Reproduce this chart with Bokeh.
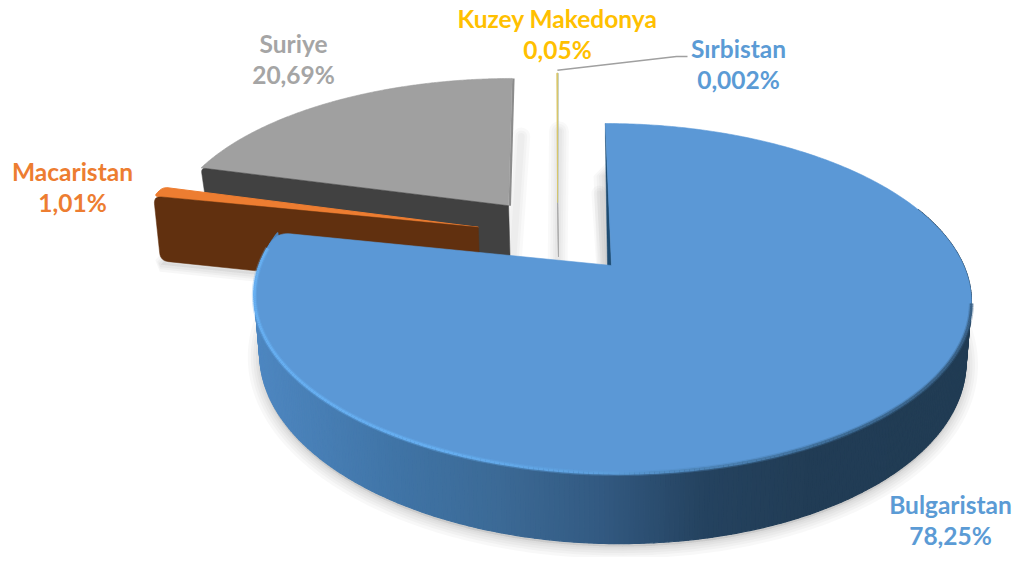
import numpy as np
from bokeh.plotting import figure
from bokeh.models import Range1d
from bokeh.core.properties import value
from bokeh.embed import file_html
from bokeh.resources import INLINE

# ---- data ----
categories = ["Bulgaristan", "Macaristan", "Suriye", "Kuzey Makedonya", "Sırbistan"]
values = [78.25, 1.01, 20.69, 0.05, 0.002]
value_labels = ["78,25%", "1,01%", "20,69%", "0,05%", "0,002%"]
top_colors = ["#5B98D6", "#ED7D31", "#A0A0A0", "#D9C66A", "#5B9BD5"]
text_colors = ["#5B9BD5", "#ED7D31", "#A5A5A5", "#FFC000", "#5B9BD5"]
label_centers = [(950, 519.5), (72, 186.5), (293, 58.5), (557, 33.5), (738, 63.5)]
explode_u = [0.0, -0.39, -0.305, -0.156, -0.156]
explode_v = [0.0, 0.237, 0.38, 0.40, 0.40]
radius = [1.0, 1.03, 1.02, 1.05, 1.05]
depths = [58, 70, 58, 58, 58]
lean = [0, 0, 5, 2, 2]

# ---- projection of the pie plane to the page ----
A, B, K, Y0, XV, C, XC, SHRINK = 352.2, 168.4, 0.186, 265.0, 572.0, 39.0, 612.0, 0.985


def proj(u, v):
    u, v = np.asarray(u, float), np.asarray(v, float)
    w = 1 + K * v
    return XV + (A * u + C) / w, Y0 - B * v / w


def proj_low(u, v, d):
    x, y = proj(u, v)
    w = 1 + K * np.asarray(v, float)
    return XC + (x - XC) * SHRINK, y + d / w


fr = np.array(values) / sum(values) * 360.0
starts = np.concatenate([[0], np.cumsum(fr)[:-1]])
ends = np.cumsum(fr)


def arc_uv(i, n=240, a0=None, a1=None):
    a0 = starts[i] if a0 is None else a0
    a1 = ends[i] if a1 is None else a1
    th = np.radians(np.linspace(a0, a1, n))
    return explode_u[i] + radius[i] * np.sin(th), explode_v[i] + radius[i] * np.cos(th)


def rounded(pts, idxs, r):
    out = []
    n = len(pts)
    for j, q in enumerate(pts):
        if j not in idxs:
            out.append(q)
            continue
        q = np.array(q, float)
        p0, p2 = np.array(pts[j - 1], float), np.array(pts[(j + 1) % n], float)
        k = j - 1
        while np.hypot(*(p0 - q)) < r and k > 0:
            k -= 1
            p0 = np.array(pts[k], float)
        a = q + (p0 - q) / np.hypot(*(p0 - q)) * r
        b = q + (p2 - q) / np.hypot(*(p2 - q)) * r
        for s in np.linspace(0, 1, 9):
            out.append(tuple((1 - s) ** 2 * a + 2 * s * (1 - s) * q + s ** 2 * b))
    return out


def xy(pts):
    arr = np.array(pts, float)
    return arr[:, 0], arr[:, 1]


p = figure(width=1014, height=557, x_range=Range1d(0, 1014), y_range=Range1d(557, 0),
           output_backend="svg", toolbar_location=None, min_border=0,
           outline_line_color=None, background_fill_color="white", border_fill_color="white")
p.axis.visible = False
p.grid.visible = False


def soft(xs, ys, widths=(22, 16, 11, 6), alpha=0.028, closed=True):
    for wd in widths:
        if closed:
            p.patch(xs, ys, fill_color="#000000", fill_alpha=alpha / 2, line_color="#000000",
                    line_alpha=alpha, line_width=wd)
        else:
            p.line(xs, ys, line_color="#000000", line_alpha=alpha, line_width=wd, line_cap="round")


# ---- soft shadows ----
au, av = arc_uv(0, 360)
sx, sy = proj_low(np.r_[0, au], np.r_[0, av], depths[0])
soft(sx, sy + 3, widths=(24, 18, 13, 8, 4))

gu, gv = arc_uv(2)
gx, gy = proj(np.r_[explode_u[2], gu[-1]], np.r_[explode_v[2], gv[-1]])
soft(gx + 4, gy + 58, widths=(18, 12, 7), alpha=0.025, closed=False)

ku, kv = arc_uv(3, 2)
kx, ky = proj(np.r_[explode_u[3], ku[0]], np.r_[explode_v[3], kv[0]])
soft(kx, ky + 58, widths=(20, 15, 10, 6), alpha=0.025, closed=False)

ou, ov = arc_uv(1)
ox, oy = proj_low(np.r_[explode_u[1], ou], np.r_[explode_v[1], ov], depths[1])
soft(ox, oy + 4, widths=(14, 9, 5), alpha=0.03)

bu, bv = arc_uv(0, 2, 0, 1)
bx, by = proj(np.r_[0, bu[0]], np.r_[0, bv[0]])
soft(bx[:2] - 6, np.array([by[0] + 20, by[1] + 70]), widths=(16, 11, 6), alpha=0.025, closed=False)

# ---- Suriye ----
gex, gey = proj(explode_u[2], explode_v[2])
gax, gay = proj(gu, gv)
gax = gax - lean[2] * (gv - explode_v[2])
gbx, gby = proj_low(explode_u[2], explode_v[2], depths[2])
gcx, gcy = proj_low(gu[0], gv[0], depths[2])
p.line([gax[-1] + 1.2, float(gex) + 1.2], [gay[-1], float(gey)], line_color="#8C8C8C", line_width=2.4)
p.patch(np.r_[gex, gax], np.r_[gey, gay], fill_color=top_colors[2], line_color=top_colors[2], line_width=0.6)
face = rounded([(gax[0], gay[0]), (float(gex), float(gey)), (float(gbx), float(gby)), (float(gcx), float(gcy))], [0], 5)
fx, fy = xy(face)
p.patch(fx, fy, fill_color="#414141", line_color="#414141", line_width=0.5)

# ---- Macaristan ----
oex, oey = proj(explode_u[1], explode_v[1])
oax, oay = proj(ou, ov)
otop = [(float(oex), float(oey))] + list(zip(oax, oay))
otop = rounded(otop[:1] + [otop[1], otop[-1]], [1, 2], 5)
tx_, ty_ = xy(otop)
p.patch(tx_, ty_, fill_color=top_colors[1], line_color=top_colors[1], line_width=1)
olx, oly = proj_low(explode_u[1], explode_v[1], depths[1])
ocx, ocy = proj_low(ou[0], ov[0], depths[1])
face = rounded([(float(oex), float(oey)), (oax[0], oay[0]), (float(ocx), float(ocy)), (float(olx), float(oly))], [1, 2], 8)
fx, fy = xy(face)
p.patch(fx, fy, fill_color="#61300F", line_color="#61300F", line_width=0.5)

# ---- Kuzey Makedonya and Sirbistan: hairline slices ----
for i in (4, 3):
    uu, vv = arc_uv(i, 4)
    ex, ey = proj(explode_u[i], explode_v[i])
    ax, ay = proj(uu, vv)
    ax = ax - lean[i] * (vv - explode_v[i])
    lx, ly = proj_low(explode_u[i], explode_v[i], depths[i])
    p.line([float(ex), float(lx)], [float(ey), float(ly)], line_color="#A8A8A8", line_width=1)
    p.patch(np.r_[ex, ax], np.r_[ey, ay], fill_color=top_colors[i], line_color=top_colors[i], line_width=1.1)

# leader line
kau, kav = arc_uv(3, 2)
kax, kay = proj(kau, kav)
kax = kax - lean[3] * (kav - explode_v[3])
p.line([float(kax[0]) + 0.5, 676, 687], [float(kay[0]) - 3, 56, 56], line_color="#A0A0A0", line_width=1.5)

# ---- Bulgaristan ----
ramp_x = [254, 400, 500, 600, 700, 800, 970]
ramp_r = [0x4F, 0x40, 0x3C, 0x33, 0x25, 0x22, 0x21]
ramp_g = [0x88, 0x74, 0x6A, 0x5A, 0x43, 0x3D, 0x3C]
ramp_b = [0xC2, 0xA6, 0x96, 0x82, 0x60, 0x56, 0x54]


def col(xv, xs, rs, gs, bs):
    return "#%02X%02X%02X" % (int(np.interp(xv, xs, rs)), int(np.interp(xv, xs, gs)), int(np.interp(xv, xs, bs)))


tu, tv = arc_uv(0, 420)
hx, hy = proj(tu, tv)
lx, ly = proj_low(tu, tv, depths[0])
qx, qy, qc = [], [], []
for j in range(len(tu) - 1):
    if tv[j] > 0.35 and tv[j + 1] > 0.35:
        continue
    qx.append([hx[j], hx[j + 1], lx[j + 1], lx[j]])
    qy.append([hy[j], hy[j + 1], ly[j + 1], ly[j]])
    qc.append(col((lx[j] + lx[j + 1]) / 2, ramp_x, ramp_r, ramp_g, ramp_b))
p.patches(qx, qy, fill_color=qc, line_color=qc, line_width=1.2)

# cut face at the start of the slice
ax0, ay0 = proj(0, 0)
ox0, oy0 = proj(tu[0], tv[0])
p.patch([float(ox0), float(ox0), float(ax0) - 4, float(ax0)],
        [float(oy0), float(oy0) + 14, float(ay0) + 1, float(ay0) + 1],
        fill_color="#1E4C72", line_color="#1E4C72", line_width=0.5)

pts = [(float(ax0), float(ay0))] + list(zip(hx, hy))
pts = rounded(pts[:-6] + [pts[-1]], [len(pts) - 6], 12)
tx, ty = xy(pts)
p.patch(tx, ty, fill_color=top_colors[0], line_color=top_colors[0], line_width=0.6)

# rim light along the outer edge
rim_x = [254, 450, 600, 700, 850, 970]
rim_r = [0x68, 0x66, 0x5E, 0x4E, 0x3E, 0x3A]
rim_g = [0xB0, 0xAE, 0xA0, 0x86, 0x6C, 0x61]
rim_b = [0xF2, 0xF0, 0xDE, 0xBA, 0x96, 0x86]
ex_, ey_, ec = [], [], []
for j in range(len(hx) - 8):
    if hx[j] > 612 and tv[j] > -0.2:
        continue
    if tv[j] > 0.1:
        continue
    ex_.append([hx[j], hx[j + 1]])
    ey_.append([hy[j] + 1, hy[j + 1] + 1])
    ec.append(col(hx[j], rim_x, rim_r, rim_g, rim_b))
p.multi_line(ex_, ey_, line_color=ec, line_width=5, line_alpha=0.35)
p.multi_line(ex_, ey_, line_color=ec, line_width=2.6)

# ---- labels ----
for name, lab, c, (cx, cy) in zip(categories, value_labels, text_colors, label_centers):
    p.text([cx], [cy - 15.5], text=[name], text_color=c, text_font=value("Lato"), text_font_style="bold",
           text_font_size="24.5px", text_align="center", text_baseline="middle")
    p.text([cx], [cy + 15.5], text=[lab], text_color=c, text_font=value("Lato"), text_font_style="bold",
           text_font_size="24.5px", text_align="center", text_baseline="middle")

open("out.html", "w").write(file_html(p, INLINE))
